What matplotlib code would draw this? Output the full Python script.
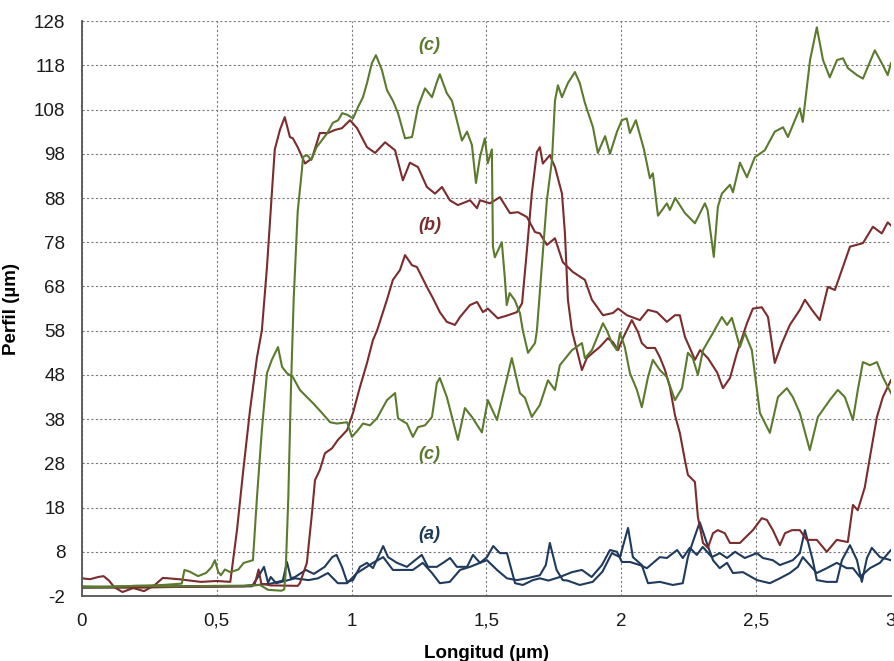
import matplotlib.pyplot as plt
from matplotlib.ticker import FixedLocator

plt.rcParams['font.family'] = ['Liberation Sans', 'DejaVu Sans']
plt.rcParams['axes.unicode_minus'] = False

# perfiles (a) azul, (b) rojo, (c) verde
a1_x = [0, 0.2, 0.4, 0.6, 0.65, 0.7, 0.745, 0.76, 0.775, 0.79, 0.83, 0.86, 0.9, 0.928, 0.944, 0.964, 0.983,
        1.005, 1.031, 1.057, 1.079, 1.117, 1.135, 1.168, 1.205, 1.227, 1.26, 1.283, 1.316, 1.339, 1.365, 1.39,
        1.428, 1.45, 1.476, 1.502, 1.525, 1.55, 1.576, 1.606, 1.635, 1.672, 1.698, 1.73, 1.772, 1.817, 1.854,
        1.89, 1.928, 1.958, 1.984, 2.002, 2.032, 2.069, 2.095, 2.143, 2.169, 2.207, 2.228, 2.254, 2.28, 2.302,
        2.336, 2.365, 2.392, 2.422, 2.458, 2.503, 2.525, 2.562, 2.588, 2.636, 2.662, 2.681, 2.71, 2.725, 2.762,
        2.799, 2.818, 2.848, 2.874, 2.892, 2.911, 2.929, 2.959, 3.0]
a1_y = [0, 0.1, 0.2, 0.3, 0.5, 0.8, 1.5, 5.7, 2.0, 2.3, 3.9, 3.0, 4.6, 6.8, 7.3, 4.6, 1.2,
        1.6, 4.6, 5.5, 4.3, 9.3, 6.8, 5.5, 4.6, 5.7, 7.3, 4.6, 4.6, 5.5, 6.6, 4.6,
        4.6, 7.3, 5.5, 6.8, 9.3, 7.7, 7.7, 0.9, 0.5, 1.6, 2.0, 1.5, 2.3, 3.4, 3.9,
        2.3, 5.0, 8.4, 8.0, 5.7, 5.7, 5.0, 4.3, 6.8, 6.6, 8.4, 6.6, 8.9, 7.3, 9.1,
        6.8, 7.7, 6.6, 8.0, 6.6, 7.7, 6.6, 6.1, 5.0, 6.1, 7.7, 12.9, 6.1, 1.6, 1.2,
        1.2, 6.1, 9.5, 6.1, 1.2, 6.6, 8.9, 6.8, 6.1]

a2_x = [0, 0.2, 0.4, 0.63, 0.66, 0.675, 0.69, 0.7, 0.72, 0.74, 0.79, 0.84, 0.875, 0.912, 0.949, 0.983, 1.02,
        1.079, 1.117, 1.153, 1.19, 1.227, 1.264, 1.298, 1.327, 1.364, 1.402, 1.439, 1.476, 1.502, 1.539, 1.576,
        1.613, 1.65, 1.698, 1.72, 1.735, 1.76, 1.783, 1.8, 1.846, 1.894, 1.93, 1.965, 1.995, 2.025, 2.043, 2.076,
        2.099, 2.143, 2.191, 2.228, 2.247, 2.265, 2.291, 2.317, 2.34, 2.365, 2.392, 2.414, 2.451, 2.503, 2.551,
        2.588, 2.625, 2.655, 2.673, 2.725, 2.762, 2.799, 2.836, 2.859, 2.885, 2.922, 2.959, 3.0]
a2_y = [-0.1, 0.0, 0.1, 0.2, 3.0, 4.6, 1.0, 2.3, 0.9, 1.2, 2.0, 1.6, 2.0, 3.2, 0.9, 0.9, 3.2,
        5.5, 6.8, 3.9, 3.9, 3.9, 5.5, 3.2, 0.9, 1.2, 3.9, 4.6, 5.5, 6.1, 3.9, 2.0,
        1.6, 2.0, 2.7, 5.0, 10.0, 3.9, 1.6, 1.5, 0.5, 1.2, 3.5, 7.7, 6.8, 13.4, 6.8, 5.0,
        0.9, 1.2, 0.5, 0.9, 6.8, 10.2, 14.7, 10.0, 6.1, 4.3, 5.5, 3.2, 3.4, 1.6, 0.9,
        2.0, 3.2, 4.6, 6.8, 3.2, 4.3, 5.5, 4.3, 4.3, 2.3, 4.3, 5.5, 8.4]

b1_x = [0, 0.03, 0.06, 0.08, 0.1, 0.12, 0.15, 0.19, 0.23, 0.27, 0.3, 0.36, 0.44, 0.5, 0.55, 0.575, 0.597,
        0.623, 0.649, 0.667, 0.686, 0.704, 0.715, 0.734, 0.752, 0.771, 0.782, 0.8, 0.827, 0.853, 0.882, 0.912,
        0.938, 0.964, 0.994, 1.02, 1.057, 1.087, 1.124, 1.161, 1.19, 1.216, 1.246, 1.279, 1.309, 1.335, 1.364,
        1.394, 1.439, 1.465, 1.476, 1.513, 1.55, 1.587, 1.617, 1.65, 1.68, 1.698, 1.724, 1.754, 1.783, 1.82,
        1.865, 1.891, 1.932, 1.969, 1.988, 2.021, 2.069, 2.099, 2.132, 2.169, 2.199, 2.217, 2.236, 2.262, 2.273,
        2.292, 2.321, 2.355, 2.377, 2.403, 2.429, 2.466, 2.488, 2.521, 2.544, 2.569, 2.596, 2.625, 2.662, 2.681,
        2.707, 2.736, 2.766, 2.792, 2.848, 2.896, 2.933, 2.966, 2.988, 3.0]
b1_y = [2.0, 1.8, 2.3, 2.5, 1.5, 0.0, -1.1, -0.2, -0.9, 0.5, 2.1, 1.8, 1.2, 1.4, 1.2, 13.0, 25.8,
        40.0, 52.0, 58.0, 72.4, 89.0, 99.0, 103.4, 106.3, 101.8, 101.5, 99.5, 95.8, 97.0, 102.7, 102.7,
        103.4, 103.8, 105.6, 103.8, 99.5, 98.2, 100.6, 98.8, 92.0, 96.0, 95.0, 90.5, 89.0, 90.5, 87.5,
        86.4, 87.5, 85.7, 87.5, 86.8, 88.2, 84.6, 84.8, 83.7, 80.3, 80.0, 77.4, 78.9, 73.5, 71.3,
        69.5, 65.0, 61.5, 62.0, 63.0, 61.5, 60.4, 62.7, 62.2, 60.0, 61.5, 61.5, 56.6, 53.0, 51.4,
        53.6, 51.8, 48.6, 45.0, 47.3, 53.0, 59.7, 63.0, 63.3, 61.1, 50.7, 55.2, 59.3, 62.7, 65.0,
        62.7, 60.4, 67.9, 67.2, 77.0, 77.8, 81.5, 80.0, 82.5, 81.8]

b2_x = [0, 0.2, 0.4, 0.6, 0.64, 0.655, 0.665, 0.7, 0.8, 0.808, 0.834, 0.853, 0.864, 0.882, 0.901, 0.927,
        0.949, 0.983, 1.005, 1.031, 1.057, 1.079, 1.094, 1.131, 1.153, 1.179, 1.198, 1.224, 1.242, 1.279,
        1.301, 1.327, 1.353, 1.383, 1.402, 1.439, 1.465, 1.487, 1.505, 1.542, 1.58, 1.613, 1.632, 1.65, 1.668,
        1.687, 1.698, 1.709, 1.735, 1.754, 1.78, 1.791, 1.802, 1.817, 1.854, 1.872, 1.894, 1.92, 1.95, 1.969,
        1.988, 2.006, 2.039, 2.062, 2.076, 2.095, 2.125, 2.143, 2.162, 2.18, 2.199, 2.217, 2.236, 2.247, 2.273,
        2.284, 2.303, 2.321, 2.34, 2.358, 2.384, 2.403, 2.44, 2.458, 2.488, 2.521, 2.54, 2.562, 2.588, 2.607,
        2.633, 2.662, 2.688, 2.725, 2.762, 2.799, 2.84, 2.859, 2.877, 2.903, 2.922, 2.948, 2.97, 3.0]
b2_y = [0.0, -0.1, 0.1, 0.2, 0.5, 4.0, 0.8, 0.4, 0.3, 0.9, 5.5, 16.8, 24.2, 26.5, 30.3, 31.4,
        33.3, 35.5, 39.4, 45.3, 50.7, 55.9, 58.0, 65.0, 69.5, 71.7, 75.1, 72.8, 72.4, 67.9,
        65.4, 62.2, 60.0, 59.3, 61.1, 63.8, 64.5, 62.2, 63.0, 60.8, 61.5, 62.2, 64.2, 76.2, 89.0,
        98.4, 99.5, 95.8, 97.7, 95.0, 89.0, 80.0, 65.0, 58.0, 49.1, 51.8, 53.0, 54.3, 56.3, 55.4,
        53.6, 56.3, 60.4, 57.7, 55.2, 54.1, 54.1, 52.0, 49.1, 45.3, 38.9, 34.9, 28.7, 25.4, 23.8,
        15.9, 10.0, 8.9, 12.2, 12.9, 12.2, 10.0, 10.0, 11.1, 12.9, 15.6, 15.2, 12.9, 9.5, 12.2,
        12.9, 12.9, 10.7, 10.7, 8.0, 10.7, 10.2, 18.6, 17.4, 22.6, 29.4, 38.5, 43.0, 46.8]

c1_x = [0, 0.1, 0.2, 0.3, 0.4, 0.5, 0.6, 0.66, 0.69, 0.74, 0.75, 0.755, 0.765, 0.775, 0.785, 0.8, 0.815,
        0.82, 0.835, 0.85, 0.87, 0.91, 0.93, 0.95, 0.965, 0.985, 1.005, 1.024, 1.042, 1.057, 1.075, 1.09,
        1.112, 1.131, 1.153, 1.172, 1.198, 1.224, 1.246, 1.272, 1.298, 1.316, 1.327, 1.353, 1.372, 1.409,
        1.428, 1.446, 1.461, 1.476, 1.494, 1.505, 1.52, 1.524, 1.531, 1.557, 1.568, 1.575, 1.586, 1.605,
        1.624, 1.635, 1.654, 1.68, 1.687, 1.705, 1.724, 1.743, 1.754, 1.765, 1.78, 1.802, 1.828, 1.846,
        1.865, 1.895, 1.913, 1.94, 1.958, 1.984, 2.002, 2.02, 2.032, 2.054, 2.084, 2.106, 2.117, 2.136,
        2.169, 2.18, 2.2, 2.236, 2.273, 2.31, 2.32, 2.343, 2.358, 2.373, 2.403, 2.414, 2.44, 2.466, 2.495,
        2.532, 2.569, 2.6, 2.618, 2.662, 2.673, 2.7, 2.725, 2.748, 2.773, 2.8, 2.822, 2.84, 2.874, 2.896,
        2.94, 2.966, 2.988, 3.0]
c1_y = [0.2, 0.1, 0.3, 0.2, 0.2, 0.3, 0.3, 0.5, -0.6, -0.8, -0.5, 3.0, 20.0, 45.0, 65.0, 85.0, 94.0,
        97.3, 97.7, 96.6, 99.5, 102.7, 105.0, 105.6, 107.2, 106.8, 106.0, 108.6, 110.8, 114.0, 118.5, 120.3,
        117.0, 112.4, 110.0, 107.2, 101.5, 101.8, 108.6, 112.8, 110.8, 114.2, 116.0, 111.7, 110.0, 101.0,
        103.0, 100.0, 91.4, 97.3, 101.5, 95.9, 99.0, 77.0, 74.6, 78.0, 70.0, 63.8, 66.5, 64.9,
        62.0, 58.0, 53.0, 55.2, 58.0, 72.4, 87.5, 96.6, 110.0, 113.5, 110.8, 114.0, 116.5, 114.0,
        109.5, 104.0, 98.2, 102.0, 98.0, 103.0, 105.6, 106.0, 102.7, 105.6, 99.0, 92.5, 93.6, 84.0,
        86.8, 85.3, 88.0, 84.6, 82.3, 86.8, 85.3, 74.7, 86.0, 89.0, 91.0, 89.3, 96.0, 92.7, 97.2,
        98.8, 103.0, 104.0, 101.8, 108.3, 105.2, 119.2, 126.6, 119.2, 115.3, 119.2, 119.6, 117.4, 115.8, 115.0,
        121.4, 118.5, 115.8, 118.5]

c2_x = [0, 0.1, 0.2, 0.3, 0.37, 0.38, 0.4, 0.43, 0.46, 0.48, 0.493, 0.505, 0.515, 0.53, 0.55, 0.58, 0.6,
        0.634, 0.649, 0.667, 0.686, 0.704, 0.727, 0.742, 0.76, 0.782, 0.808, 0.834, 0.857, 0.89, 0.92, 0.945,
        0.983, 1.001, 1.023, 1.042, 1.068, 1.094, 1.131, 1.161, 1.172, 1.205, 1.227, 1.246, 1.272, 1.298,
        1.316, 1.327, 1.353, 1.394, 1.42, 1.446, 1.483, 1.505, 1.539, 1.594, 1.624, 1.643, 1.668, 1.698,
        1.728, 1.754, 1.772, 1.817, 1.854, 1.865, 1.891, 1.932, 1.947, 1.965, 1.984, 1.995, 2.013, 2.032,
        2.058, 2.076, 2.099, 2.117, 2.143, 2.169, 2.199, 2.225, 2.247, 2.265, 2.284, 2.303, 2.34, 2.373,
        2.392, 2.41, 2.44, 2.458, 2.484, 2.514, 2.551, 2.581, 2.614, 2.636, 2.662, 2.699, 2.729, 2.773,
        2.803, 2.829, 2.859, 2.877, 2.896, 2.922, 2.948, 2.97, 3.0]
c2_y = [0.0, 0.1, 0.3, 0.5, 0.8, 3.9, 3.5, 2.5, 3.2, 4.5, 6.1, 3.5, 2.7, 4.0, 3.4, 4.0, 5.5,
        6.1, 20.4, 35.5, 48.4, 51.4, 54.3, 49.8, 48.4, 47.5, 44.6, 43.0, 41.6, 39.4, 37.3, 37.0,
        37.3, 34.0, 35.5, 37.0, 36.6, 38.2, 42.3, 43.9, 38.2, 37.0, 34.0, 36.2, 36.6, 38.5,
        46.2, 47.3, 43.0, 33.3, 40.5, 38.5, 35.0, 42.3, 37.8, 51.8, 43.9, 42.8, 38.5, 41.2,
        46.8, 44.6, 50.2, 53.6, 55.2, 51.8, 53.6, 59.7, 58.0, 55.2, 53.6, 57.5, 54.3, 48.4,
        44.6, 40.7, 47.5, 51.4, 49.1, 47.5, 42.3, 45.0, 53.0, 51.8, 48.0, 53.6, 57.5, 61.1,
        59.3, 60.9, 54.3, 57.5, 53.6, 39.4, 34.9, 43.0, 45.0, 43.0, 39.4, 31.0, 38.5, 42.3,
        44.6, 43.0, 37.8, 44.6, 50.9, 50.2, 50.9, 47.5, 43.9]

x_ticks = [0, 0.5, 1, 1.5, 2, 2.5, 3]
x_labels = ['0', '0,5', '1', '1,5', '2', '2,5', '3']
y_ticks = list(range(-2, 129, 10))

azul = '#1f3a5c'
rojo = '#7b2c2c'
verde = '#5b7a2e'

fig = plt.figure(figsize=(8.94, 6.61), dpi=100)
ax = fig.add_axes([0.0917, 0.0983, 0.9049, 0.8697])

ax.plot(a1_x, a1_y, color=azul, lw=1.5)
ax.plot(a2_x, a2_y, color=azul, lw=1.5)
ax.plot(b1_x, b1_y, color=rojo, lw=1.5)
ax.plot(b2_x, b2_y, color=rojo, lw=1.5)
ax.plot(c1_x, c1_y, color=verde, lw=1.5)
ax.plot(c2_x, c2_y, color=verde, lw=1.5)

ax.set_xlim(0, 3)
ax.set_ylim(-2, 128)
ax.xaxis.set_major_locator(FixedLocator(x_ticks))
ax.set_xticklabels(x_labels)
ax.yaxis.set_major_locator(FixedLocator(y_ticks))
ax.tick_params(length=0, labelsize=13.5, colors='#1a1a1a', pad=12)
ax.grid(True, color='#7a7a7a', ls=(0, (2, 2)), lw=0.8)

for s in ['top', 'right']:
    ax.spines[s].set_visible(False)
for s in ['left', 'bottom']:
    ax.spines[s].set_color('#555555')
    ax.spines[s].set_linewidth(1.3)

ax.set_xlabel('Longitud (µm)', fontsize=13.5, fontweight='bold', labelpad=11)
ax.set_ylabel('Perfil (µm)', fontsize=13.5, fontweight='bold', labelpad=10)

ax.text(1.29, 122.6, '(c)', color=verde, fontsize=13, fontweight='bold', style='italic', ha='center', va='center')
ax.text(1.29, 81.9, '(b)', color=rojo, fontsize=13, fontweight='bold', style='italic', ha='center', va='center')
ax.text(1.29, 29.9, '(c)', color=verde, fontsize=13, fontweight='bold', style='italic', ha='center', va='center')
ax.text(1.29, 11.8, '(a)', color=azul, fontsize=13, fontweight='bold', style='italic', ha='center', va='center')

fig.savefig('out.png', dpi=100)
